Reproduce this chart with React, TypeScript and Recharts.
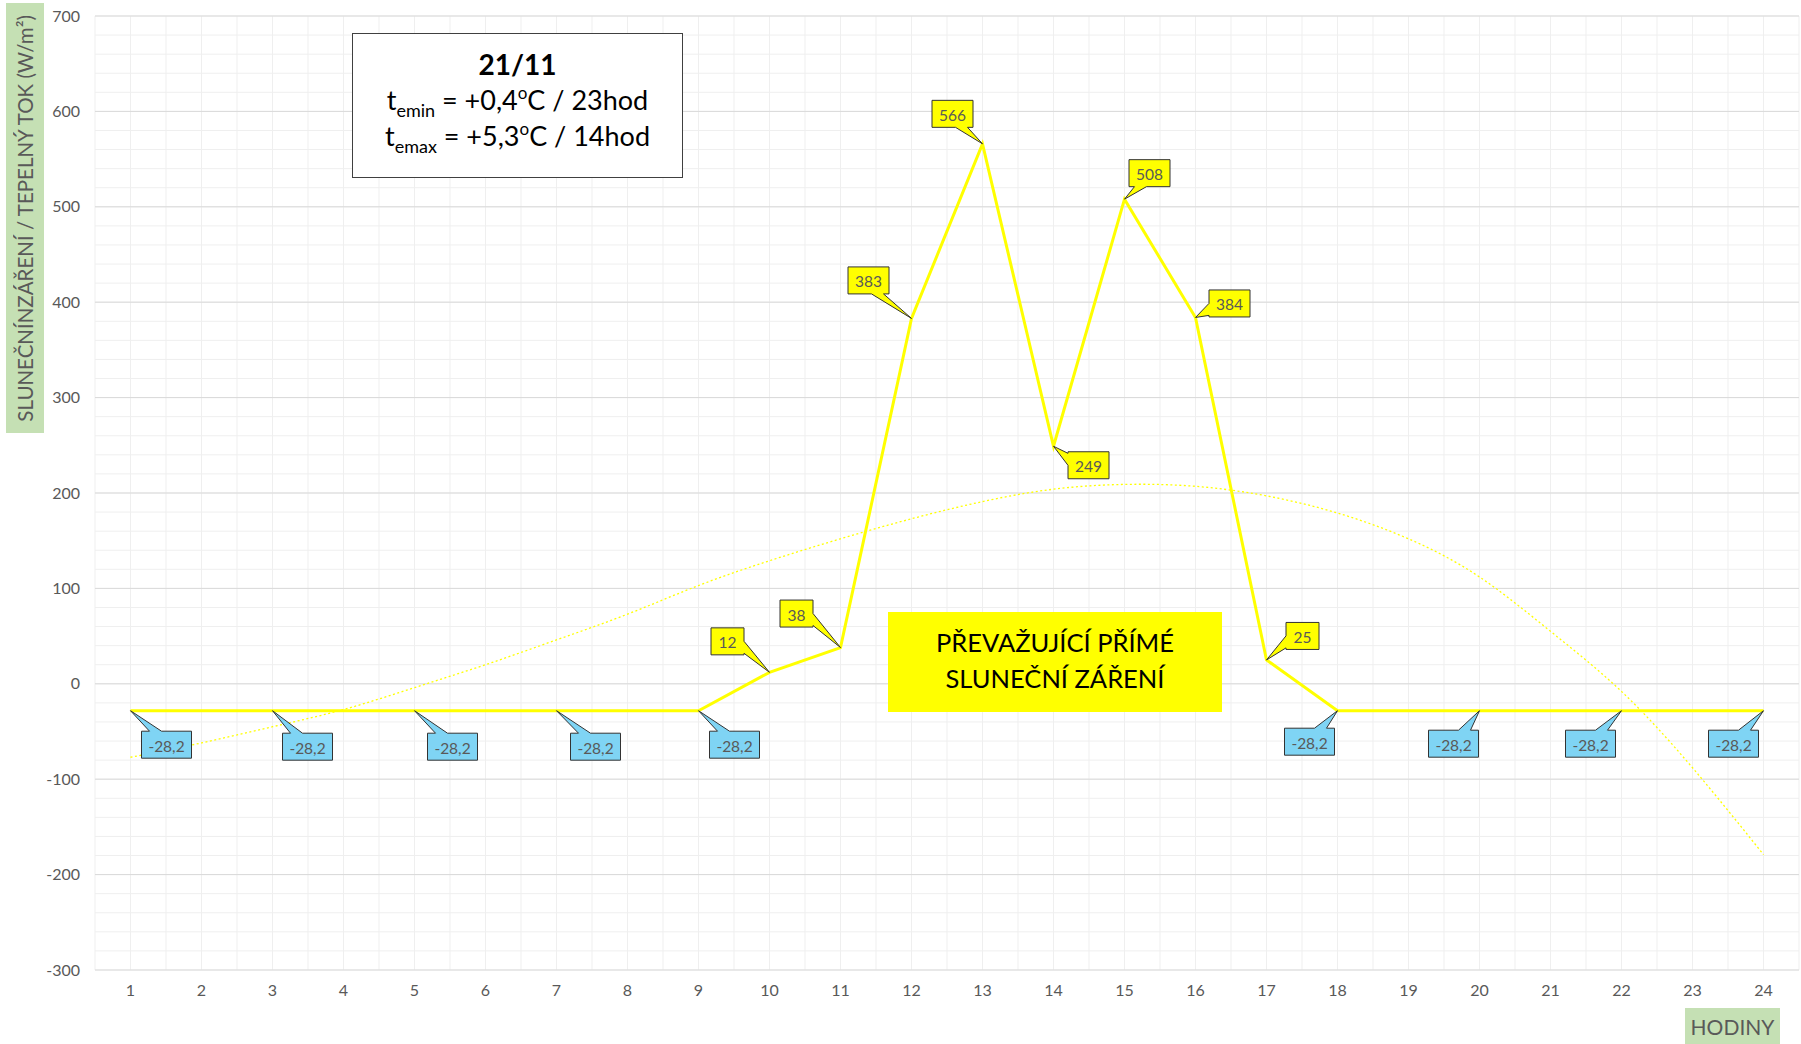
import React from 'react';
import { ComposedChart, Line, XAxis, YAxis, CartesianGrid, ReferenceLine } from 'recharts';

// hodiny 1..24
const hours = [1, 2, 3, 4, 5, 6, 7, 8, 9, 10, 11, 12, 13, 14, 15, 16, 17, 18, 19, 20, 21, 22, 23, 24];

// slunecni zareni / tepelny tok (W/m2)
const irradiance = [
  -28.2, -28.2, -28.2, -28.2, -28.2, -28.2, -28.2, -28.2, -28.2,
  12, 38, 383, 566, 249, 508, 384, 25,
  -28.2, -28.2, -28.2, -28.2, -28.2, -28.2, -28.2,
];

// tecna trendu
const trend = [
  -77, -62, -45, -27, -4, 20, 46, 73, 103, 129, 152, 173,
  191, 204, 209, 207, 197, 179, 152, 112, 55, -8, -88, -179,
];

const yMajorTicks = [-300, -200, -100, 0, 100, 200, 300, 400, 500, 600, 700];
const yMinorTicks = Array.from({ length: 51 }, (_, i) => -300 + i * 20);
const xHalfTicks = Array.from({ length: 49 }, (_, i) => 0.5 + i * 0.5);

// popisky jen u techto hodin: [dx, dy] stredu bubliny od bodu
const calloutOffset: Record<number, [number, number]> = {
  1: [36, 34], 3: [35, 36], 5: [38, 36], 7: [39, 36], 9: [36, 34],
  10: [-42, -31], 11: [-44, -34], 12: [-43, -38], 13: [-30, -30],
  14: [35, 19], 15: [25, -26], 16: [34, -14], 17: [36, -24],
  18: [-28, 31], 20: [-26, 33], 22: [-31, 33], 24: [-30, 33],
};

const data = hours.map((h, i) => ({ hour: h, value: irradiance[i], trend: trend[i] }));

const FONT = 'Lato, "Open Sans", sans-serif';
const GRAY = '#595959';

const fmt = (v: number) => String(v).replace('.', ',');

const textWidth = (s: string) =>
  s.split('').reduce((w, c) => w + (c === '-' ? 5 : c === ',' ? 4 : 8), 0) + 17;

function calloutPath(L: number, T: number, R: number, B: number, px: number, py: number) {
  const ox = px < L ? L - px : px > R ? px - R : 0;
  const oy = py < T ? T - py : py > B ? py - B : 0;
  const W = 6;
  const w = R - L;
  const h = B - T;
  let pts: number[][];
  if (oy >= ox) {
    const a = px < (L + R) / 2 ? L + 0.28 * w : R - 0.28 * w;
    if (py < T) {
      pts = [[L, T], [a - W, T], [px, py], [a + W, T], [R, T], [R, B], [L, B]];
    } else {
      pts = [[L, T], [R, T], [R, B], [a + W, B], [px, py], [a - W, B], [L, B]];
    }
  } else {
    const a = py < (T + B) / 2 ? T + 0.28 * h : B - 0.28 * h;
    if (px > R) {
      pts = [[L, T], [R, T], [R, a - W], [px, py], [R, a + W], [R, B], [L, B]];
    } else {
      pts = [[L, T], [R, T], [R, B], [L, B], [L, a + W], [px, py], [L, a - W]];
    }
  }
  return 'M' + pts.map((p) => `${p[0]},${p[1]}`).join(' L') + ' Z';
}

const Callout = (props: any) => {
  const { cx, cy, payload, index } = props;
  const off = payload ? calloutOffset[payload.hour] : undefined;
  if (!off || cx == null || cy == null) return <g key={`c-${index}`} />;
  const label = fmt(payload.value);
  const bw = textWidth(label);
  const bh = 27;
  const mx = cx + off[0];
  const my = cy + off[1];
  const L = mx - bw / 2;
  const T = my - bh / 2;
  const fill = payload.value < 0 ? '#7fd4f4' : '#ffff00';
  return (
    <g key={`c-${index}`}>
      <path
        d={calloutPath(L, T, L + bw, T + bh, cx, cy)}
        fill={fill}
        stroke="#333333"
        strokeWidth={1}
      />
      <text
        x={mx}
        y={my + 1}
        textAnchor="middle"
        dominantBaseline="central"
        fontFamily={FONT}
        fontSize={15.5}
        fill={GRAY}
      >
        {label}
      </text>
    </g>
  );
};

const subStyle: React.CSSProperties = { fontSize: 18, lineHeight: 0, position: 'relative', top: 7 };
const supStyle: React.CSSProperties = { fontSize: 17, lineHeight: 0, position: 'relative', top: -11 };

export default function App() {
  return (
    <div style={{ position: 'absolute', left: 0, top: 0, width: 1801, height: 1044, background: '#fff', fontFamily: FONT }}>
      <ComposedChart
        width={1801}
        height={1044}
        data={data}
        margin={{ top: 16, right: 2, left: 0, bottom: 0 }}
      >
        <CartesianGrid stroke="#efefef" strokeWidth={1} />
        {yMajorTicks.map((v) => (
          <ReferenceLine key={v} y={v} stroke="#d9d9d9" strokeWidth={1} ifOverflow="visible" />
        ))}
        <XAxis
          dataKey="hour"
          type="number"
          domain={[0.5, 24.5]}
          ticks={xHalfTicks}
          interval={0}
          tickFormatter={(v: number) => (Number.isInteger(v) ? String(v) : '')}
          tickLine={false}
          axisLine={false}
          tickSize={0}
          tickMargin={15}
          height={74}
          tick={{ fontSize: 16, fill: GRAY, fontFamily: FONT }}
        />
        <YAxis
          type="number"
          domain={[-300, 700]}
          ticks={yMinorTicks}
          interval={0}
          tickFormatter={(v: number) => (v % 100 === 0 ? String(v) : '')}
          tickLine={false}
          axisLine={false}
          tickSize={0}
          tickMargin={15}
          width={95}
          tick={{ fontSize: 16, fill: GRAY, fontFamily: FONT }}
        />
        <Line
          dataKey="trend"
          type="natural"
          stroke="#ffff00"
          strokeWidth={1.3}
          strokeDasharray="2 2.5"
          dot={false}
          activeDot={false}
          isAnimationActive={false}
        />
        <Line
          dataKey="value"
          type="linear"
          stroke="#ffff00"
          strokeWidth={3}
          dot={Callout}
          activeDot={false}
          isAnimationActive={false}
        />
      </ComposedChart>

      {/* popisek osy Y */}
      <div
        style={{
          position: 'absolute', left: 6, top: 3, width: 38, height: 430, background: '#c5e0b4',
          display: 'flex', alignItems: 'center', justifyContent: 'center',
        }}
      >
        <div
          style={{
            writingMode: 'vertical-rl', transform: 'rotate(180deg)', whiteSpace: 'nowrap',
            fontSize: 20.5, color: GRAY, fontFamily: FONT,
          }}
        >
          SLUNEČNÍNZÁŘENÍ / TEPELNÝ TOK (W/m²)
        </div>
      </div>

      {/* popisek osy X */}
      <div
        style={{
          position: 'absolute', left: 1685, top: 1008, width: 95, height: 36, background: '#c5e0b4',
          display: 'flex', alignItems: 'center', justifyContent: 'center',
          fontSize: 21, color: GRAY, fontFamily: FONT,
        }}
      >
        HODINY
      </div>

      {/* info box */}
      <div
        style={{
          position: 'absolute', left: 352, top: 33, width: 331, height: 145, boxSizing: 'border-box',
          border: '1px solid #404040', background: '#fff', textAlign: 'center', color: '#000',
          fontFamily: FONT, paddingTop: 12,
        }}
      >
        <div style={{ fontSize: 28, fontWeight: 700, lineHeight: '36px' }}>21/11</div>
        <div style={{ fontSize: 27, lineHeight: '36px' }}>
          t<span style={subStyle}>emin</span> = +0,4<span style={supStyle}>o</span>C / 23hod
        </div>
        <div style={{ fontSize: 27, lineHeight: '36px' }}>
          t<span style={subStyle}>emax</span> = +5,3<span style={supStyle}>o</span>C / 14hod
        </div>
      </div>

      {/* zvyrazneni */}
      <div
        style={{
          position: 'absolute', left: 888, top: 612, width: 334, height: 100, background: '#ffff00',
          display: 'flex', flexDirection: 'column', alignItems: 'center', justifyContent: 'center',
          fontSize: 25.5, lineHeight: '36px', color: '#000', fontFamily: FONT, paddingBottom: 4, boxSizing: 'border-box',
        }}
      >
        <div>PŘEVAŽUJÍCÍ PŘÍMÉ</div>
        <div>SLUNEČNÍ ZÁŘENÍ</div>
      </div>
    </div>
  );
}
